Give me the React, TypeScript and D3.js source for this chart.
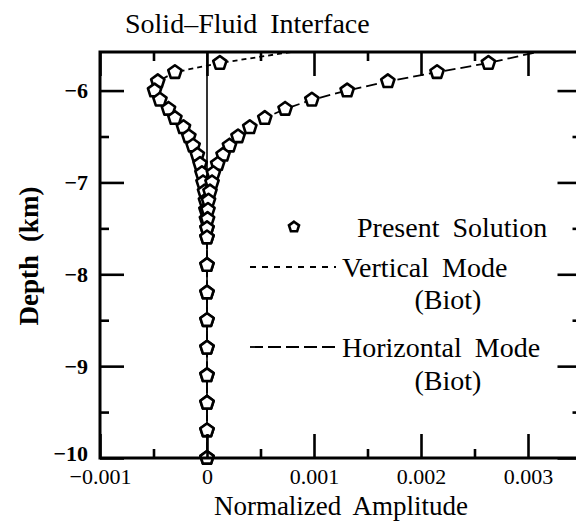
import { useEffect, useRef } from 'react'
import * as d3 from 'd3'

// sampled depths (km), present solution markers sit on these
const depthKm = [-5.7, -5.8, -5.9, -6.0, -6.1, -6.2, -6.3, -6.4, -6.5, -6.6, -6.7, -6.8, -6.9, -7.0, -7.1, -7.2, -7.3, -7.4, -7.5, -7.6, -7.9, -8.2, -8.5, -8.8, -9.1, -9.4, -9.7, -10.0]
const verticalAmp = [0.00012, -0.0003, -0.00046, -0.00049, -0.00044, -0.00036, -0.0003, -0.00022, -0.00017, -0.00013, -0.00009, -0.000065, -0.000047, -0.000037, -0.000023, -0.000014, -0.00001, -0.000005, 0, 0, 0, 0, 0, 0, 0, 0, 0, 0]
const horizontalAmp = [0.00263, 0.00215, 0.00169, 0.00131, 0.00098, 0.00073, 0.00054, 0.0004, 0.00029, 0.00021, 0.00015, 0.0001, 0.00006, 0.000047, 0.000028, 0.000014, 0.000009, 0.000005, 0, 0, 0, 0, 0, 0, 0, 0, 0, 0]

// Biot curves start just above the frame (interface side), clipped
const surfaceDepth = -5.55
const surfaceVertical = 0.00095
const surfaceHorizontal = 0.0032

const xTicks = [-0.001, 0, 0.001, 0.002, 0.003]
const xTickLabels = ['\u22120.001', '0', '0.001', '0.002', '0.003']
const xMinorTicks = [-0.0005, 0.0005, 0.0015, 0.0025]
const yTicks = [-10, -9, -8, -7, -6]
const yTickLabels = ['\u221210', '\u22129', '\u22128', '\u22127', '\u22126']
const yMinorTicks = [-9.5, -8.5, -7.5, -6.5]

const FONT = '"Liberation Serif", "Times New Roman", serif'

const pentagon = {
  draw(ctx: any, size: number) {
    const r = Math.sqrt(size)
    for (let k = 0; k < 5; k++) {
      const a = -Math.PI / 2 + (k * 2 * Math.PI) / 5
      const px = r * Math.cos(a)
      const py = r * Math.sin(a)
      if (k === 0) ctx.moveTo(px, py)
      else ctx.lineTo(px, py)
    }
    ctx.closePath()
  },
}

export default function App() {
  const svgRef = useRef<SVGSVGElement>(null)
  const width = 576
  const height = 523

  useEffect(() => {
    const el = svgRef.current
    if (!el) return

    const left = 100, top = 52, right = 581.5, bottom = 458

    const x = d3.scaleLinear().domain([-0.001, 0.0035]).range([left, right])
    const y = d3.scaleLinear().domain([-10, -5.58]).range([bottom, top])

    const svg = d3.select(el)
    svg.selectAll('*').remove()

    svg.append('rect').attr('width', width).attr('height', height).attr('fill', '#fff')

    svg.append('defs').append('clipPath').attr('id', 'plot-clip')
      .append('rect')
      .attr('x', left).attr('y', top)
      .attr('width', right - left).attr('height', bottom - top)

    // zero reference line
    svg.append('line')
      .attr('x1', x(0)).attr('x2', x(0))
      .attr('y1', top).attr('y2', bottom)
      .attr('stroke', '#000').attr('stroke-width', 1.6)

    const line = d3.line<[number, number]>()
      .x(d => x(d[1]))
      .y(d => y(d[0]))

    const vertPts: [number, number][] = [[surfaceDepth, surfaceVertical], ...depthKm.map((d, i) => [d, verticalAmp[i]] as [number, number])]
    const horPts: [number, number][] = [[surfaceDepth, surfaceHorizontal], ...depthKm.map((d, i) => [d, horizontalAmp[i]] as [number, number])]

    const curves = svg.append('g').attr('clip-path', 'url(#plot-clip)')
    curves.append('path').datum(vertPts).attr('d', line)
      .attr('fill', 'none').attr('stroke', '#000').attr('stroke-width', 1.8)
      .attr('stroke-dasharray', '5,4')
    curves.append('path').datum(horPts).attr('d', line)
      .attr('fill', 'none').attr('stroke', '#000').attr('stroke-width', 1.8)
      .attr('stroke-dasharray', '11,5')

    const sym = d3.symbol().type(pentagon as any).size(49)
    const markers = svg.append('g')
    for (const series of [verticalAmp, horizontalAmp]) {
      depthKm.forEach((d, i) => {
        markers.append('path')
          .attr('d', sym())
          .attr('transform', `translate(${x(series[i])},${y(d)})`)
          .attr('fill', '#fff').attr('stroke', '#000').attr('stroke-width', 2.6)
          .attr('stroke-linejoin', 'round')
      })
    }

    // axes: ticks point inward on all four sides
    const styleAxis = (ax: any, fontSize: number, weight: string) => {
      ax.select('.domain').remove()
      ax.selectAll('line').attr('stroke', '#000').attr('stroke-width', 2.6)
      ax.selectAll('text')
        .attr('fill', '#000')
        .attr('font-family', FONT)
        .attr('font-size', `${fontSize}px`)
        .attr('font-weight', weight)
    }

    svg.append('g').attr('transform', `translate(0,${bottom})`)
      .call(d3.axisBottom(x).tickValues(xTicks).tickSize(-24).tickPadding(10)
        .tickFormat((_, i) => xTickLabels[i]))
      .call(ax => styleAxis(ax, 22, 'normal'))
    svg.append('g').attr('transform', `translate(0,${bottom})`)
      .call(d3.axisBottom(x).tickValues(xMinorTicks).tickSize(-9).tickFormat(() => ''))
      .call(ax => styleAxis(ax, 22, 'normal'))
    svg.append('g').attr('transform', `translate(0,${top})`)
      .call(d3.axisTop(x).tickValues(xTicks).tickSize(-24).tickFormat(() => ''))
      .call(ax => styleAxis(ax, 22, 'normal'))
    svg.append('g').attr('transform', `translate(0,${top})`)
      .call(d3.axisTop(x).tickValues(xMinorTicks).tickSize(-9).tickFormat(() => ''))
      .call(ax => styleAxis(ax, 22, 'normal'))

    svg.append('g').attr('transform', `translate(${left},0)`)
      .call(d3.axisLeft(y).tickValues(yTicks).tickSize(-24).tickPadding(12)
        .tickFormat((_, i) => yTickLabels[i]))
      .call(ax => styleAxis(ax, 22, 'bold'))
      // the bottom label sits just above the x labels
      .call(ax => ax.selectAll('text').filter((d: any) => d === -10).attr('dy', '0.1em'))
    svg.append('g').attr('transform', `translate(${left},0)`)
      .call(d3.axisLeft(y).tickValues(yMinorTicks).tickSize(-9).tickFormat(() => ''))
      .call(ax => styleAxis(ax, 22, 'bold'))
    svg.append('g').attr('transform', `translate(${right},0)`)
      .call(d3.axisRight(y).tickValues(yTicks).tickSize(-24).tickFormat(() => ''))
      .call(ax => styleAxis(ax, 22, 'bold'))
    svg.append('g').attr('transform', `translate(${right},0)`)
      .call(d3.axisRight(y).tickValues(yMinorTicks).tickSize(-9).tickFormat(() => ''))
      .call(ax => styleAxis(ax, 22, 'bold'))

    // frame
    svg.append('rect')
      .attr('x', left).attr('y', top)
      .attr('width', right - left).attr('height', bottom - top)
      .attr('fill', 'none').attr('stroke', '#000').attr('stroke-width', 3)

    const text = (tx: number, ty: number, s: string, size: number, anchor = 'start', weight = 'normal') =>
      svg.append('text')
        .attr('x', tx).attr('y', ty)
        .attr('font-family', FONT).attr('font-size', `${size}px`)
        .attr('font-weight', weight)
        .attr('text-anchor', anchor)
        .attr('word-spacing', '6px')
        .attr('fill', '#000')
        .text(s)

    text(125, 33, 'Solid\u2013Fluid Interface', 28)
    text(341, 515, 'Normalized Amplitude', 27, 'middle')
    text(0, 0, 'Depth (km)', 27, 'middle', 'bold')
      .attr('transform', 'translate(38,256) rotate(-90)')

    // legend
    svg.append('path')
      .attr('d', d3.symbol().type(pentagon as any).size(28)())
      .attr('transform', `translate(${294},${227})`)
      .attr('fill', '#fff').attr('stroke', '#000').attr('stroke-width', 2.6)
    text(357, 237, 'Present Solution', 28)

    svg.append('line').attr('x1', 250).attr('x2', 336).attr('y1', 267).attr('y2', 267)
      .attr('stroke', '#000').attr('stroke-width', 1.8).attr('stroke-dasharray', '6,6')
    text(342, 277, 'Vertical Mode', 28)
    text(448, 309, '(Biot)', 28, 'middle')

    svg.append('line').attr('x1', 250).attr('x2', 336).attr('y1', 347).attr('y2', 347)
      .attr('stroke', '#000').attr('stroke-width', 1.8).attr('stroke-dasharray', '13,5')
    text(342, 357, 'Horizontal Mode', 28)
    text(448, 390, '(Biot)', 28, 'middle')
  }, [])

  return (
    <svg
      ref={svgRef}
      width={width}
      height={height}
      style={{ position: 'absolute', left: 0, top: 0, display: 'block' }}
    />
  )
}
